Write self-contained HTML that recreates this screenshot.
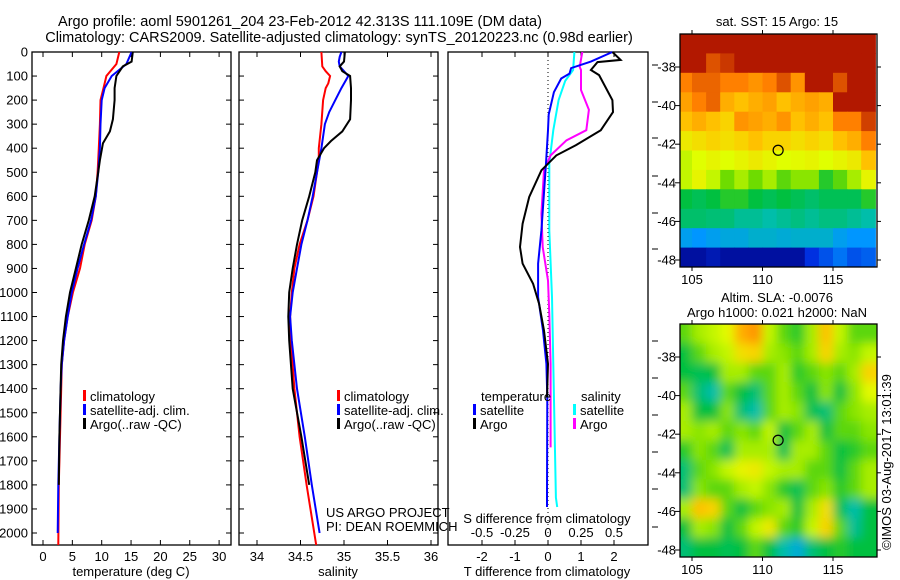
<!DOCTYPE html>
<html><head><meta charset="utf-8">
<style>
html,body{margin:0;padding:0;background:#fff;}
svg{display:block;font-family:"Liberation Sans",sans-serif;}
text{font-size:13px;fill:#000;}
.ttl{font-size:14.5px;}
</style></head>
<body>
<svg id="chart" width="900" height="580" viewBox="0 0 900 580" xmlns="http://www.w3.org/2000/svg">
<text class="ttl" x="300" y="26" text-anchor="middle">Argo profile: aoml 5901261_204 23-Feb-2012 42.313S 111.109E (DM data)</text>
<text class="ttl" x="339" y="42" text-anchor="middle">Climatology: CARS2009. Satellite-adjusted climatology: synTS_20120223.nc (0.98d earlier)</text>
<g id="layer"></g>
</svg>
<script>
// ---------- profile data ----------
const tClimDepth=[0,50,100,150,200,300,400,500,600,700,800,900,1000,1100,1200,1300,1400,1600,1800,2050];
const tClimVal=[13.0,12.5,10.8,10.3,9.8,9.7,9.5,9.3,9.0,8.3,7.1,6.3,5.1,4.2,3.6,3.2,3.1,2.9,2.7,2.6];
const tSatDepth=[0,50,100,150,200,300,400,500,600,700,800,900,1000,1100,1200,1300,1400,1600,1800,2000];
const tSatVal=[15.1,14.2,11.7,10.5,10.0,9.8,9.7,9.4,9.0,8.2,7.0,5.9,4.9,4.2,3.6,3.2,3.0,2.8,2.6,2.5];
const tArgoDepth=[0,40,60,100,150,200,280,330,380,450,500,600,700,800,900,1000,1100,1200,1300,1400,1600,1800];
const tArgoVal=[15.3,15.1,13.6,12.5,12.2,12.2,11.9,11.4,10.2,9.7,9.4,8.8,7.8,6.6,5.6,4.6,3.9,3.4,3.1,3.0,2.8,2.7];

const sClimDepth=[0,60,80,100,130,150,200,300,400,450,500,600,700,800,900,1000,1100,1200,1400,1600,1800,2050];
const sClimVal=[34.74,34.75,34.79,34.84,34.82,34.79,34.76,34.74,34.71,34.71,34.69,34.65,34.58,34.49,34.43,34.40,34.38,34.39,34.43,34.49,34.57,34.68];
const sSatDepth=[0,20,40,60,80,100,150,200,250,300,400,500,600,700,800,900,1000,1100,1200,1400,1600,1800,2000];
const sSatVal=[34.97,34.95,34.94,34.95,35.0,35.05,34.97,34.90,34.83,34.78,34.74,34.69,34.64,34.58,34.51,34.46,34.41,34.38,34.40,34.46,34.55,34.63,34.72];
const sArgoDepth=[0,40,60,80,100,150,200,280,330,370,400,450,500,600,700,800,900,1000,1100,1200,1400,1600,1800];
const sArgoVal=[35.01,35.0,34.95,34.98,35.07,35.08,35.08,35.07,34.98,34.85,34.77,34.69,34.67,34.60,34.52,34.46,34.41,34.37,34.36,34.37,34.41,34.51,34.60];

const dTSatDepth=[0,40,67,90,110,167,260,325,463,742,880,1019,1158,1297,1436,1853,1892];
const dTSatVal=[1.95,1.3,0.7,0.65,0.4,0.18,0.02,0.0,-0.06,-0.2,-0.3,-0.3,-0.15,-0.05,-0.02,-0.03,-0.03];
const dTArgoDepth=[0,33,42,75,96,200,250,325,387,430,492,603,714,811,880,964,1047,1158,1297,1436];
const dTArgoVal=[1.95,2.2,1.5,1.3,1.55,1.95,1.97,1.6,0.85,0.25,-0.2,-0.57,-0.77,-0.85,-0.77,-0.45,-0.27,-0.12,0.0,-0.03];
const dSSatDepth=[0,75,120,200,325,463,742,1019,1297,1575,1853,1892];
const dSSatVal=[0.2,0.19,0.13,0.08,0.04,0.01,0.01,0.03,0.04,0.05,0.06,0.07];
const dSArgoDepth=[0,62,75,158,240,325,367,430,492,672,811,950,1089,1297,1575,1644];
const dSArgoVal=[0.26,0.24,0.25,0.25,0.31,0.29,0.14,0.02,-0.03,-0.05,-0.04,0.0,0.01,0.02,0.02,0.02];

const depthTicks=[0,100,200,300,400,500,600,700,800,900,1000,1100,1200,1300,1400,1500,1600,1700,1800,1900,2000];
const tempTicks=[0,5,10,15,20,25,30];
const salTicks=[34,34.5,35,35.5,36];
const tDiffTicks=[-2,-1,0,1,2];
const sDiffTicks=[-0.5,-0.25,0,0.25,0.5];
const lonTicks=[105,110,115];
const latTicks=[-38,-40,-42,-44,-46,-48];

// ---------- map data (rows north->south, cols lon 104..118) ----------
const sstGrid=[
[0.97,0.97,0.97,0.97,0.97,0.97,0.97,0.97,0.97,0.97,0.97,0.97,0.97,0.97],
[0.97,0.97,0.9,0.93,0.97,0.97,0.97,0.97,0.97,0.97,0.97,0.97,0.97,0.97],
[0.85,0.88,0.88,0.85,0.85,0.82,0.85,0.9,0.82,0.97,0.97,0.9,0.97,0.97],
[0.8,0.85,0.88,0.78,0.75,0.78,0.8,0.75,0.78,0.8,0.78,0.97,0.97,0.97],
[0.75,0.78,0.75,0.72,0.82,0.8,0.78,0.82,0.75,0.78,0.75,0.85,0.85,0.92],
[0.68,0.7,0.72,0.7,0.72,0.75,0.72,0.72,0.7,0.72,0.7,0.75,0.78,0.85],
[0.62,0.64,0.66,0.64,0.66,0.68,0.66,0.64,0.65,0.66,0.64,0.66,0.68,0.75],
[0.62,0.66,0.62,0.56,0.6,0.56,0.6,0.55,0.58,0.58,0.52,0.55,0.6,0.66],
[0.5,0.48,0.5,0.52,0.52,0.5,0.48,0.5,0.48,0.46,0.48,0.48,0.48,0.52],
[0.46,0.46,0.45,0.45,0.42,0.42,0.4,0.42,0.44,0.42,0.44,0.44,0.42,0.4],
[0.32,0.3,0.32,0.34,0.34,0.36,0.36,0.35,0.36,0.36,0.36,0.32,0.3,0.3],
[0.05,0.05,0.08,0.05,0.05,0.05,0.05,0.05,0.05,0.15,0.2,0.25,0.2,0.22]];
const slaGrid=[
[0.55,0.6,0.62,0.65,0.78,0.82,0.62,0.55,0.52,0.6,0.75,0.62,0.55,0.55],
[0.5,0.55,0.6,0.62,0.7,0.72,0.6,0.58,0.55,0.6,0.72,0.6,0.58,0.62],
[0.5,0.48,0.5,0.6,0.6,0.55,0.55,0.6,0.52,0.55,0.58,0.55,0.6,0.72],
[0.55,0.45,0.4,0.55,0.5,0.45,0.55,0.6,0.55,0.5,0.58,0.5,0.58,0.65],
[0.6,0.5,0.5,0.58,0.45,0.4,0.55,0.6,0.58,0.48,0.45,0.55,0.58,0.6],
[0.6,0.58,0.6,0.55,0.58,0.55,0.62,0.5,0.55,0.6,0.5,0.55,0.55,0.58],
[0.52,0.58,0.55,0.48,0.6,0.6,0.6,0.48,0.6,0.6,0.55,0.5,0.52,0.55],
[0.45,0.55,0.58,0.62,0.66,0.68,0.62,0.6,0.6,0.55,0.55,0.5,0.55,0.6],
[0.45,0.58,0.55,0.55,0.6,0.62,0.58,0.52,0.48,0.55,0.58,0.52,0.55,0.6],
[0.6,0.75,0.72,0.55,0.5,0.55,0.58,0.6,0.5,0.6,0.7,0.48,0.4,0.5],
[0.5,0.6,0.58,0.5,0.55,0.62,0.68,0.55,0.52,0.62,0.72,0.55,0.42,0.5],
[0.45,0.5,0.5,0.48,0.5,0.55,0.5,0.4,0.35,0.45,0.5,0.52,0.5,0.5]];
const argoLon=111.109, argoLat=-42.313;

// ---------- helpers ----------
const NS="http://www.w3.org/2000/svg";
const layer=document.getElementById('layer');
function mk(tag,attrs,parent){const e=document.createElementNS(NS,tag);for(const k in attrs)e.setAttribute(k,attrs[k]);(parent||layer).appendChild(e);return e;}
function txt(x,y,s,anchor,parent){const e=mk('text',{x:x,y:y,'text-anchor':anchor||'start'},parent);e.textContent=s;return e;}

const PT=52, PB=545;
const depthY=d=>PT+d*0.2405;
const panels=[
 {x0:32,x1:231,name:'temperature-panel'},
 {x0:239,x1:438,name:'salinity-panel'},
 {x0:448,x1:648,name:'difference-panel'}];
const tempX=t=>43+t*5.87;
const salX=s=>257+(s-34)*87;
const dTX=t=>548+t*33;
const dSX=s=>548+s*132;

function line(depths,vals,fx,color,name,parent){
  let d='';
  for(let i=0;i<depths.length;i++){d+=(i?'L':'M')+fx(vals[i]).toFixed(1)+','+depthY(depths[i]).toFixed(1);}
  const p=mk('path',{d:d,fill:'none',stroke:color,'stroke-width':2},parent);
  
  
  return p;
}

panels.forEach((p,i)=>{
  const g=mk('g',{});
  
  
  mk('rect',{x:p.x0,y:PT,width:p.x1-p.x0,height:PB-PT,fill:'none',stroke:'#000','stroke-width':1.3},g);
  depthTicks.forEach(d=>{
    const y=depthY(d);
    if(i<2){mk('line',{x1:p.x0,x2:p.x0+5,y1:y,y2:y,stroke:'#000'},g);mk('line',{x1:p.x1-5,x2:p.x1,y1:y,y2:y,stroke:'#000'},g);}
  });
});
depthTicks.forEach(d=>{const t=txt(28,depthY(d)+4.5,String(d),'end');});
function xticks(vals,fx,p,labelY,fmt){
  vals.forEach(v=>{const x=fx(v);
    mk('line',{x1:x,x2:x,y1:PT,y2:PT+5,stroke:'#000'});
    mk('line',{x1:x,x2:x,y1:PB-5,y2:PB,stroke:'#000'});
    const t=txt(x,labelY,fmt?fmt(v):String(v),'middle');
    
    
  });
}
xticks(tempTicks,tempX,panels[0],561);
xticks(salTicks,salX,panels[1],561);
xticks(tDiffTicks,dTX,panels[2],561);
sDiffTicks.forEach(v=>{const t=txt(dSX(v),537,String(v),'middle');});
[65,102,138,176,213,249,341,378,415,452,489,527].forEach(y=>mk('line',{x1:652,x2:658,y1:y,y2:y,stroke:'#000'}));
const z=mk('line',{x1:dTX(0),x2:dTX(0),y1:PT,y2:PB,stroke:'#000','stroke-dasharray':'1,3'});


[[131,'temperature (deg C)'],[338,'salinity'],[547,'T difference from climatology']].forEach(a=>{const t=txt(a[0],576,a[1],'middle');});
{const t=txt(547,523,'S difference from climatology','middle');}

line(tClimDepth,tClimVal,tempX,'#ff0000','temp-climatology-line');
line(tSatDepth,tSatVal,tempX,'#0000ff','temp-satellite-line');
line(tArgoDepth,tArgoVal,tempX,'#000000','temp-argo-line');
line(sClimDepth,sClimVal,salX,'#ff0000','sal-climatology-line');
line(sSatDepth,sSatVal,salX,'#0000ff','sal-satellite-line');
line(sArgoDepth,sArgoVal,salX,'#000000','sal-argo-line');
line(dSSatDepth,dSSatVal,dSX,'#00ffff','sdiff-satellite-line');
line(dSArgoDepth,dSArgoVal,dSX,'#ff00ff','sdiff-argo-line');
line(dTSatDepth,dTSatVal,dTX,'#0000ff','tdiff-satellite-line');
line(dTArgoDepth,dTArgoVal,dTX,'#000000','tdiff-argo-line');

function legend(x,y,color,label){
  const g=mk('g',{});
  
  
  mk('rect',{x:x,y:y-11,width:3,height:11,fill:color},g);
  txt(x+7,y,label,'start',g);
}
[[83,'#ff0000','climatology'],[83,'#0000ff','satellite-adj. clim.'],[83,'#000000','Argo(..raw -QC)']].forEach((l,i)=>legend(l[0],401+i*14,l[1],l[2]));
[[337,'#ff0000','climatology'],[337,'#0000ff','satellite-adj. clim.'],[337,'#000000','Argo(..raw -QC)']].forEach((l,i)=>legend(l[0],401+i*14,l[1],l[2]));
{const t=txt(481,401,'temperature');}
{const t=txt(581,401,'salinity');}
legend(473,415,'#0000ff','satellite');legend(473,429,'#000000','Argo');
legend(573,415,'#00ffff','satellite');legend(573,429,'#ff00ff','Argo');
{const t=txt(326,517,'US ARGO PROJECT');}
{const t=txt(326,531,'PI: DEAN ROEMMICH');}

const stops=[[0,[0,0,128]],[0.15,[0,48,224]],[0.3,[0,150,255]],[0.4,[0,190,170]],[0.5,[0,192,64]],[0.56,[110,220,0]],[0.64,[224,255,0]],[0.74,[255,200,0]],[0.85,[255,128,0]],[0.92,[208,64,0]],[1,[160,0,0]]];
function cmap(v){
  for(let i=1;i<stops.length;i++){if(v<=stops[i][0]){const a=stops[i-1],b=stops[i];const f=(v-a[0])/(b[0]-a[0]);const c=a[1].map((x,k)=>Math.round(x+(b[1][k]-x)*f));return 'rgb('+c.join(',')+')';}}
  return 'rgb(160,0,0)';
}
function map(top,bot,lat38,lat48,grid,name,blur){
  const X0=680,X1=877;
  const lonX=l=>692+(l-105)*14.1;
  const latY=l=>lat38+(-38-l)*(lat48-lat38)/10;
  const g=mk('g',{});
  
  
  const clipId=name+'-clip';
  const defs=mk('defs',{},g);
  const cp=mk('clipPath',{id:clipId},defs);
  mk('rect',{x:X0,y:top,width:X1-X0,height:bot-top},cp);
  if(blur){const f=mk('filter',{id:name+'-blur',x:'-10%',y:'-10%',width:'120%',height:'120%'},defs);mk('feGaussianBlur',{stdDeviation:5},f);}
  const cells=mk('g',{'clip-path':'url(#'+clipId+')'},g);
  const inner=mk('g',blur?{filter:'url(#'+name+'-blur)'}:{},cells);
  const rows=grid.length, cols=grid[0].length;
  const latTop=-38+(lat38-top)/((lat48-lat38)/10), latBot=-38-(bot-lat38)/((lat48-lat38)/10);
  const pad=blur?1:0;
  for(let r=-pad;r<rows+pad;r++)for(let c=-pad;c<cols+pad;c++){
    const rr=Math.min(rows-1,Math.max(0,r)), cc=Math.min(cols-1,Math.max(0,c));
    const la0=latTop-(latTop-latBot)*r/rows, la1=latTop-(latTop-latBot)*(r+1)/rows;
    const x0=lonX(104+c), x1=lonX(105+c), y0=latY(la0), y1=latY(la1);
    const cell=mk('rect',{x:x0.toFixed(1),y:y0.toFixed(1),width:(x1-x0+0.6).toFixed(1),height:(y1-y0+0.6).toFixed(1),fill:cmap(grid[rr][cc])},inner);
    
    
  }
  mk('rect',{x:X0,y:top,width:X1-X0,height:bot-top,fill:'none',stroke:'#000','stroke-width':1.3},g);
  latTicks.forEach(l=>{const y=latY(l);
    mk('line',{x1:X0,x2:X0-5,y1:y,y2:y,stroke:'#000'},g);
    mk('line',{x1:X1,x2:X1+4,y1:y,y2:y,stroke:'#000'},g);
    const t=txt(X0-4,y+4.5,String(l),'end',g);
    
    });
  lonTicks.forEach(l=>{const x=lonX(l);
    mk('line',{x1:x,x2:x,y1:top,y2:top-4,stroke:'#000'},g);
    mk('line',{x1:x,x2:x,y1:bot,y2:bot+4,stroke:'#000'},g);
    const t=txt(x,bot+17,String(l),'middle',g);
    
    });
  const m=mk('circle',{cx:lonX(argoLon),cy:latY(argoLat),r:5,fill:'none',stroke:'#000','stroke-width':1.2},g);
  
  
}
map(34,267,67,260,sstGrid,'sst-map',false);
map(324,557,357,550,slaGrid,'sla-map',true);
{const t=txt(777,26,'sat. SST: 15 Argo: 15','middle');}
{const t=txt(777,302,'Altim. SLA: -0.0076','middle');}
{const t=txt(777,317,'Argo h1000: 0.021 h2000: NaN','middle');}
{const t=txt(0,0,'\u00a9IMOS 03-Aug-2017 13:01:39','middle');t.setAttribute('transform','translate(891,462) rotate(-90)');}
</script>
</body></html>
